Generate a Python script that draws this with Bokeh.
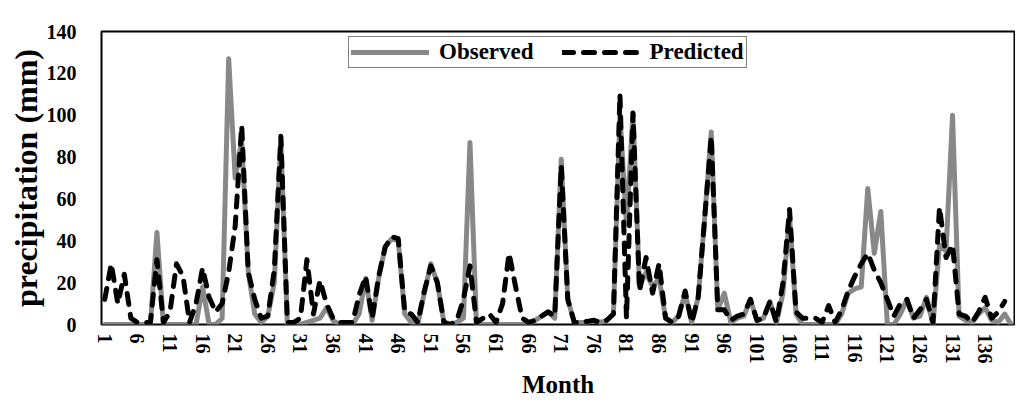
from bokeh.plotting import figure
from bokeh.models import Range1d, FixedTicker, Legend, LegendItem
from bokeh.embed import file_html
from bokeh.resources import INLINE

observed = [0, 0, 0, 0, 0, 0, 0, 0, 44, 0,
            0, 0, 0, 0, 0, 18, 0, 0, 3, 127,
            70, 88, 25, 5, 1, 4, 20, 88, 0, 0,
            0, 1, 2, 3, 8, 2, 0, 0, 0, 5,
            22, 2, 22, 37, 41, 40, 5, 1, 0, 15,
            29, 20, 1, 0, 1, 3, 87, 0, 0, 0,
            0, 0, 0, 0, 0, 0, 2, 4, 6, 3,
            79, 12, 1, 1, 1, 2, 1, 2, 5, 100,
            48, 101, 18, 25, 18, 22, 3, 1, 4, 15,
            1, 13, 51, 92, 7, 15, 1, 3, 4, 12,
            2, 3, 11, 1, 15, 52, 5, 0, 0, 0,
            0, 0, 0, 5, 15, 17, 18, 65, 34, 54,
            0, 0, 5, 12, 3, 4, 13, 0, 38, 35,
            100, 4, 2, 1, 5, 8, 2, 1, 5, 0]

predicted = [12, 29, 10, 24, 3, 1, 1, 1, 31, 1,
             6, 29, 23, 1, 10, 27, 13, 6, 10, 25,
             47, 95, 25, 12, 3, 4, 26, 90, 1, 1,
             3, 31, 5, 21, 10, 3, 1, 1, 1, 14,
             23, 3, 23, 37, 42, 41, 6, 5, 1, 16,
             28, 20, 1, 0, 2, 12, 28, 1, 3, 5,
             1, 10, 34, 18, 3, 1, 2, 4, 6, 4,
             76, 12, 1, 1, 1.5, 2, 1, 2, 5, 110,
             3, 101, 16, 32, 15, 29, 3, 1, 4, 16,
             1, 13, 51, 90, 7, 7, 2, 4, 5, 12,
             2, 3, 11, 1, 20, 55, 6, 3, 3, 3,
             1, 9, 1, 7, 16, 23, 29, 34, 26, 20,
             12, 4, 10, 12, 3, 7, 12, 1, 56, 32,
             38, 5, 4, 1, 6, 13, 3, 6, 11]

months_obs = list(range(1, len(observed) + 1))
months_pred = list(range(1, len(predicted) + 1))
x_tick_months = list(range(1, 137, 5))
y_ticks = [0, 20, 40, 60, 80, 100, 120, 140]

FONT = "Liberation Serif"

p = figure(width=1015, height=400, output_backend="svg", toolbar_location=None,
           x_range=Range1d(0.5, len(observed) + 0.5), y_range=Range1d(0, 140),
           min_border_left=101, min_border_right=1, min_border_top=31, min_border_bottom=68,
           background_fill_color="white", border_fill_color="white")

r_obs = p.line(months_obs, observed, line_color="#888888", line_width=5,
               line_join="round", line_cap="round")
r_pred = p.line(months_pred, predicted, line_color="black", line_width=5,
                line_dash="11 10", line_join="round", line_cap="round")

p.xgrid.visible = False
p.ygrid.visible = False
p.outline_line_color = "black"
p.outline_line_width = 2

for ax in (p.xaxis[0], p.yaxis[0]):
    ax.axis_line_color = None
    ax.major_tick_line_color = None
    ax.minor_tick_line_color = None
    ax.major_tick_out = 0
    ax.major_tick_in = 0
    ax.major_label_text_font = FONT
    ax.major_label_text_font_style = "bold"
    ax.major_label_text_font_size = "20px"
    ax.major_label_text_color = "black"
    ax.axis_label_text_font = FONT
    ax.axis_label_text_font_style = "bold"
    ax.axis_label_text_color = "black"

p.xaxis.ticker = FixedTicker(ticks=x_tick_months)
p.xaxis.major_label_orientation = "vertical"
p.xaxis.major_label_standoff = 9
p.xaxis.axis_label = "Month"
p.xaxis.axis_label_text_font_size = "25px"
p.xaxis.axis_label_standoff = 4

p.yaxis.ticker = FixedTicker(ticks=y_ticks)
p.yaxis.major_label_standoff = 25
p.yaxis.axis_label = "precipitation (mm)"
p.yaxis.axis_label_text_font_size = "32px"
p.yaxis.axis_label_standoff = 0

legend = Legend(items=[LegendItem(label="Observed", renderers=[r_obs]),
                       LegendItem(label="Predicted", renderers=[r_pred])],
                location=(247, 256), orientation="horizontal",
                label_text_font=FONT, label_text_font_style="bold",
                label_text_font_size="23px", label_text_color="black",
                border_line_color="black", border_line_width=1.5,
                glyph_width=78, glyph_height=20, padding=2, spacing=28,
                label_standoff=10, margin=0, background_fill_alpha=1.0)
p.add_layout(legend)

open("out.html", "w").write(file_html(p, INLINE))
